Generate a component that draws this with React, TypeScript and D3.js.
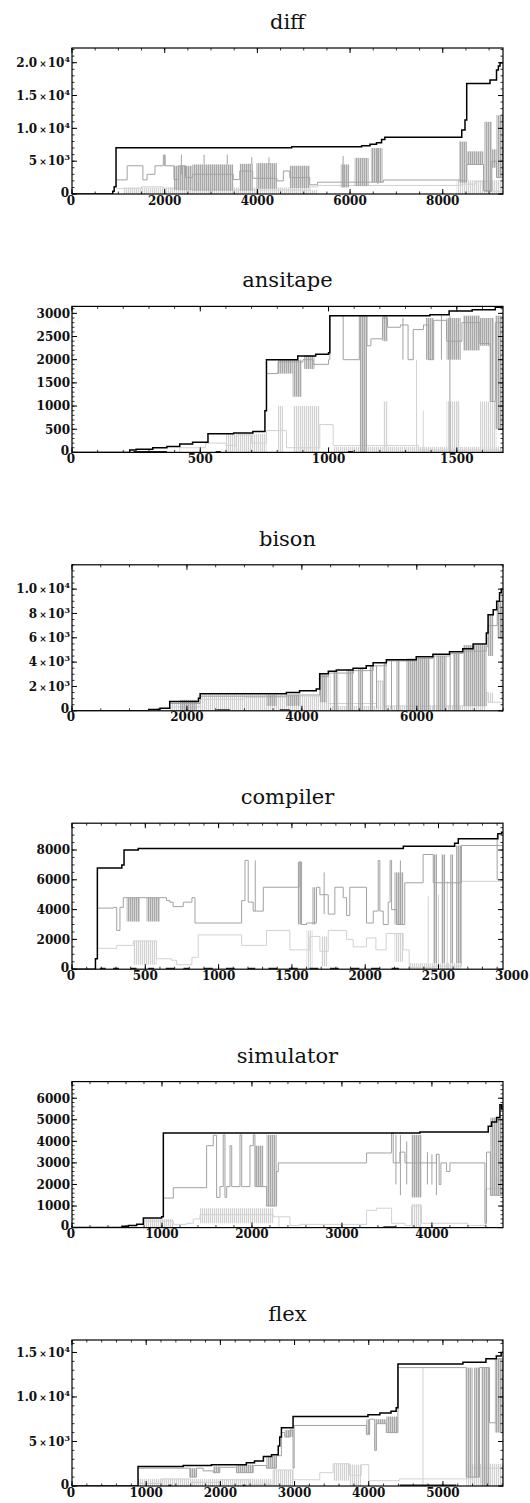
import React from "react";
import * as d3 from "d3";

type P = [number, number];
type B = [number, number, number, number];
type S = [number, number, number];

// ---------- panel meta ----------
const titles = ["diff", "ansitape", "bison", "compiler", "simulator", "flex"];
const xMaxes = [9300, 1680, 7500, 2940, 4790, 5810];
const yMaxes = [22240, 3150, 12000, 9800, 6770, 16400];
const xTicks = [
  [0, 2000, 4000, 6000, 8000],
  [0, 500, 1000, 1500],
  [0, 2000, 4000, 6000],
  [0, 500, 1000, 1500, 2000, 2500, 3000],
  [0, 1000, 2000, 3000, 4000],
  [0, 1000, 2000, 3000, 4000, 5000],
];
const xMinorSteps = [500, 100, 500, 100, 200, 200];
const yTicks = [
  [0, 5000, 10000, 15000, 20000],
  [0, 500, 1000, 1500, 2000, 2500, 3000],
  [0, 2000, 4000, 6000, 8000, 10000],
  [0, 2000, 4000, 6000, 8000],
  [0, 1000, 2000, 3000, 4000, 5000, 6000],
  [0, 5000, 10000, 15000],
];
const yTickLabels = [
  ["0", "5×10^3", "1.0×10^4", "1.5×10^4", "2.0×10^4"],
  ["0", "500", "1000", "1500", "2000", "2500", "3000"],
  ["0", "2×10^3", "4×10^3", "6×10^3", "8×10^3", "1.0×10^4"],
  ["0", "2000", "4000", "6000", "8000"],
  ["0", "1000", "2000", "3000", "4000", "5000", "6000"],
  ["0", "5×10^3", "1.0×10^4", "1.5×10^4"],
];
const yMinorSteps = [1000, 100, 500, 500, 200, 1000];

// ---------- diff ----------
const diffBlack: P[] = [[0,0],[860,0],[880,400],[910,1100],[950,7060],[4740,7210],[6250,7360],[6430,7560],[6570,7820],[6680,8320],[6750,8630],[8410,9750],[8480,11270],[8517,16850],[9020,17360],[9160,18880],[9200,19490],[9236,20000],[9300,20000]];
const diffGray: P[] = [[950,2150],[1190,4300],[1530,2150],[1620,3000],[1790,4300],[1970,5900],[2010,4300],[2200,2200],[2300,4300],[2450,2500],[2600,3000],[3480,2200],[3620,3500],[3900,2400],[4420,2000],[4560,3500],[4700,2500],[5130,1400],[5300,1800],[6720,2130],[8410,2000],[8520,4500],[8880,500],[9060,5000],[9160,2500],[9300,2500]];
const diffGrayBands: B[] = [[2200,2600,600,4300],[2600,3480,500,4500],[3620,3900,500,4600],[3980,4420,800,4700],[4700,5130,900,4300],[5800,5980,1000,4500],[6100,6400,1200,5500],[6450,6700,1800,7000],[8350,8520,1700,8000],[8520,8880,4500,6500],[8900,9060,300,11000],[9060,9160,4000,6800],[9160,9300,2500,12000]];
const diffGraySpikes: S[] = [[2000,4300,6000],[2360,3000,6000],[2850,4500,6000],[3350,4500,6000],[3880,4500,5600],[4250,4500,5600],[5850,1000,5800],[6600,1500,7000]];
const diffLight: P[] = [[960,850],[1500,1100],[1970,900],[2300,600],[5140,1100],[5300,1300],[6720,1300],[8400,1500],[8700,1900],[9000,400],[9300,3000]];
const diffLightBands: B[] = [[1100,5100,0,1000],[5100,5300,0,600],[8300,9300,0,2100]];
const diffLightSpikes: S[] = [[9280,0,3500]];
const diffDashes: S[] = [];

// ---------- ansitape ----------
const ansiBlack: P[] = [[0,0],[220,0],[225,50],[250,70],[315,100],[370,130],[420,180],[470,220],[530,400],[630,420],[705,450],[752,900],[758,2000],[880,2080],[950,2120],[1000,2150],[1005,2950],[1395,2970],[1470,3050],[1560,3080],[1650,3130],[1680,3150]];
const ansiGray: P[] = [[758,1700],[803,1950],[900,2000],[940,1900],[1000,2000],[1005,2950],[1057,2000],[1120,2950],[1150,2300],[1165,2450],[1210,2900],[1230,2700],[1280,2750],[1310,2000],[1330,2650],[1370,2750],[1390,2000],[1410,2850],[1460,2400],[1520,2800],[1590,2350],[1630,1100],[1650,2800],[1670,2200],[1680,2200]];
const ansiGrayBands: B[] = [[803,860,1700,2000],[860,895,1200,2000],[905,945,1800,2100],[1122,1150,0,2950],[1210,1230,2400,2950],[1380,1410,2000,2900],[1460,1515,2000,2900],[1525,1590,2200,2950],[1590,1630,2300,2900],[1630,1645,1100,2900],[1650,1680,500,2950]];
const ansiGraySpikes: S[] = [[1473,0,2950],[1290,2000,2900],[1440,2000,2950]];
const ansiLight: P[] = [[330,0],[420,100],[520,200],[600,150],[640,380],[700,200],[758,470],[836,100],[966,600],[1018,150],[1232,150],[1350,50],[1680,100]];
const ansiLightBands: B[] = [[600,758,0,400],[803,823,0,1000],[862,966,0,1000],[1128,1141,0,2950],[1213,1232,0,1100],[1460,1512,0,1100],[1590,1654,0,1100],[1018,1680,0,120]];
const ansiLightSpikes: S[] = [[1343,0,2000],[1369,0,900],[1500,0,1100]];
const ansiDashes: S[] = [[240,370,15],[560,580,15],[1075,1095,15]];

// ---------- bison ----------
const bisonBlack: P[] = [[0,0],[1330,0],[1335,100],[1530,200],[1700,760],[2200,1030],[2230,1410],[3730,1500],[3960,1650],[4250,1800],[4310,3040],[4460,3250],[4600,3350],[4890,3500],[5120,3700],[5240,3950],[5470,4200],[5990,4450],[6280,4650],[6570,4850],[6800,5100],[6980,5500],[7210,6400],[7240,7900],[7330,8300],[7390,9000],[7440,9700],[7470,10000],[7500,10000]];
const bisonGray: P[] = [[1700,600],[2230,1200],[3730,1300],[4313,2800],[4460,3100],[4900,3300],[5240,3700],[5470,4100],[5990,4300],[6280,4500],[6570,4700],[6800,4900],[7210,5300],[7240,7000],[7400,8500],[7480,6000],[7500,6000]];
const bisonGrayBands: B[] = [[1880,2170,0,900],[3390,3560,400,1300],[3730,3965,400,1300],[4313,4429,700,3000],[4545,4632,0,3300],[4777,4893,0,3400],[4980,5067,0,3500],[5183,5241,0,3700],[5415,5472,0,3900],[5646,5704,0,4100],[5820,6226,0,4300],[6342,6516,0,4500],[6632,6748,0,4700],[6806,7212,400,5400],[7240,7330,4500,7900],[7400,7470,6000,9000]];
const bisonGraySpikes: S[] = [[5300,200,3700],[5560,100,4100],[6300,0,4500],[6580,100,4700]];
const bisonLight: P[] = [[1700,300],[2230,950],[3000,1100],[3730,1200],[4313,2900],[4460,600],[5299,2400],[5415,400],[7212,1500],[7240,700],[7500,1500]];
const bisonLightBands: B[] = [[1700,2200,0,800],[2200,3700,0,1300],[3700,4300,0,1200],[4313,4500,0,3000],[5300,5420,200,2500],[4500,7200,0,400],[7240,7330,700,1500]];
const bisonLightSpikes: S[] = [[7480,1000,9500]];
const bisonDashes: S[] = [[2516,2748,80],[3617,3791,80]];

// ---------- compiler ----------
const compBlack: P[] = [[0,0],[150,0],[160,700],[173,6800],[340,7000],[355,8000],[440,8000],[452,8100],[2260,8250],[2610,8450],[2635,8750],[2905,9100],[2930,9200],[2940,9200]];
const compGray: P[] = [[168,4100],[282,4150],[305,2600],[327,4150],[350,4800],[600,4800],[645,4600],[668,4500],[690,4200],[759,4500],[818,4800],[839,3100],[1145,3100],[1157,4600],[1180,7300],[1202,4500],[1236,3900],[1305,5500],[1532,5500],[1549,7200],[1566,3000],[1600,3100],[1668,5500],[1691,5000],[1748,3700],[1793,5500],[1850,4800],[1873,3600],[1895,5500],[2009,3100],[2055,3900],[2089,7300],[2100,3900],[2123,3000],[2157,4500],[2170,7300],[2180,4000],[2214,3000],[2270,5800],[2395,7700],[2464,5800],[2657,8300],[2918,8300],[2940,6000]];
const compGrayBands: B[] = [[373,464,3200,4800],[509,600,3200,4800],[1540,1566,3000,7200],[1640,1660,3000,5500],[2200,2260,3000,6500],[2464,2490,400,7700],[2520,2545,400,7700],[2580,2600,400,7700],[2620,2657,400,8300]];
const compGraySpikes: S[] = [[1250,3900,7300],[1720,3700,6500],[2240,3000,7300],[2900,6000,9000]];
const compLight: P[] = [[168,1400],[305,1600],[418,1900],[577,700],[679,600],[714,300],[818,800],[861,2300],[1145,2300],[1157,1600],[1327,2600],[1486,1300],[1623,2200],[1691,1200],[1748,2600],[1873,2000],[1918,1500],[2009,2100],[2073,1300],[2143,2400],[2259,1300],[2300,100],[2464,200],[2657,5900],[2918,5900],[2940,2400]];
const compLightBands: B[] = [[418,577,300,1900],[1600,1640,0,2600],[1700,1740,200,2200],[2200,2260,500,2400],[2300,2657,0,400]];
const compLightSpikes: S[] = [[2430,0,4900],[2500,0,5000],[2560,0,5900]];
const compDashes: S[] = [[190,230,50],[280,320,50],[400,440,50],[520,560,50],[640,700,50],[760,800,50],[900,960,50],[1050,1110,50],[1200,1250,50],[1340,1400,50],[1480,1540,50],[1620,1680,50],[1760,1820,50],[1900,1960,50],[2040,2100,50],[2180,2230,50]];

// ---------- simulator ----------
const simBlack: P[] = [[0,0],[550,0],[555,60],[626,100],[719,150],[793,450],[996,500],[1015,4390],[3867,4430],[4626,4700],[4663,4900],[4719,5100],[4756,5700],[4775,5500],[4790,5500]];
const simGray: P[] = [[1015,1370],[1126,1850],[1496,3800],[1570,4280],[1607,1400],[1644,1900],[1681,4300],[1700,1400],[1719,1900],[1756,3800],[1775,1900],[1867,4300],[1886,1900],[1978,3800],[2015,4300],[2033,1900],[2163,1000],[2274,2600],[2293,3000],[3274,3460],[3552,4400],[3570,3000],[3644,3500],[3700,3000],[4050,3400],[4080,2000],[4100,3000],[4163,2600],[4200,3000],[4589,200],[4607,3500],[4650,1500],[4790,5000]];
const simGrayBands: B[] = [[2033,2126,1900,3800],[2163,2274,1000,4300],[3774,3885,1400,4300],[4650,4790,1500,5100]];
const simGraySpikes: S[] = [[3600,2000,4300],[3650,1500,4300],[3720,2000,4000],[3950,2000,3500],[4000,2000,3400],[4050,1500,3400]];
const simLight: P[] = [[793,300],[1126,150],[1274,200],[1348,400],[1422,600],[2237,500],[2422,100],[2533,150],[3274,800],[3385,900],[3552,200],[3700,100],[3774,1000],[3885,200],[4400,100],[4600,1800],[4790,2000]];
const simLightBands: B[] = [[793,1126,0,400],[1422,2237,200,900],[3774,3885,0,1100],[4650,4790,1500,2300]];
const simLightSpikes: S[] = [[2300,0,500]];
const simDashes: S[] = [[3460,3600,30]];

// ---------- flex ----------
const flexBlack: P[] = [[0,0],[884,0],[890,2190],[1500,2300],[1880,2400],[2350,2600],[2460,2800],[2580,3300],[2690,3500],[2780,4500],[2800,5500],[2823,6530],[2980,7800],[3990,8000],[4150,8200],[4300,8400],[4370,8800],[4394,13700],[5270,13900],[5580,14300],[5720,14600],[5785,15000],[5810,15000]];
const flexGray: P[] = [[890,2000],[1589,1000],[1679,2000],[1768,1700],[1903,1500],[1993,2100],[2217,1500],[2442,2300],[2621,2000],[2756,3400],[2823,6000],[2868,5500],[2940,6300],[2980,2000],[2995,6800],[3968,5800],[4013,7500],[4080,4000],[4102,7000],[4237,6000],[4394,13300],[5314,1000],[5494,13300],[5628,7100],[5718,14300],[5810,7500]];
const flexGrayBands: B[] = [[1589,1679,1000,2000],[1903,1993,1500,2200],[2217,2442,1500,2400],[2621,2756,2000,3400],[2868,2980,5500,6300],[3968,4013,5800,7500],[4102,4237,7000,7500],[4237,4394,6000,7800],[5314,5400,1000,13300],[5420,5494,1000,13300],[5520,5628,0,13300],[5700,5810,6000,14300]];
const flexGraySpikes: S[] = [[4100,4000,7500]];
const flexLight: P[] = [[884,300],[1200,800],[1600,400],[2000,700],[2400,200],[2711,1800],[2980,700],[3340,1500],[3519,2500],[3743,1200],[3900,2400],[4000,600],[4417,800],[5314,800],[5400,2000],[5810,2500]];
const flexLightBands: B[] = [[884,2700,0,800],[2711,2980,0,1800],[3519,3743,600,2500],[3743,3900,0,2400],[5314,5810,0,2500]];
const flexLightSpikes: S[] = [[4731,0,13300]];
const flexDashes: S[] = [[1300,1340,80],[2300,2340,80],[4417,5180,80]];

const blacks = [diffBlack, ansiBlack, bisonBlack, compBlack, simBlack, flexBlack];
const grays = [diffGray, ansiGray, bisonGray, compGray, simGray, flexGray];
const grayBands = [diffGrayBands, ansiGrayBands, bisonGrayBands, compGrayBands, simGrayBands, flexGrayBands];
const graySpikes = [diffGraySpikes, ansiGraySpikes, bisonGraySpikes, compGraySpikes, simGraySpikes, flexGraySpikes];
const lights = [diffLight, ansiLight, bisonLight, compLight, simLight, flexLight];
const lightBands = [diffLightBands, ansiLightBands, bisonLightBands, compLightBands, simLightBands, flexLightBands];
const lightSpikes = [diffLightSpikes, ansiLightSpikes, bisonLightSpikes, compLightSpikes, simLightSpikes, flexLightSpikes];
const dashes = [diffDashes, ansiDashes, bisonDashes, compDashes, simDashes, flexDashes];

// ---------- layout ----------
const LEFT = 72;
const RIGHT = 503;
const TOP0 = 48;
const H = 146;
const GAP = 258.4;
const MID = "#a2a2a2";
const LIGHT = "#d2d2d2";
const TICKFONT = "'DejaVu Serif', serif";

function TickLabel({ x, y, text, anchor }: { x: number; y: number; text: string; anchor: string }) {
  const m = text.match(/^(.*)×10\^(\d)$/);
  const common = { x, y, textAnchor: anchor as any, fontFamily: TICKFONT, fontWeight: "bold" as any, fontSize: 12, fill: "#111" };
  if (!m) return <text {...common}>{text}</text>;
  return (
    <text {...common}>
      <tspan>{m[1]}</tspan>
      <tspan fontSize={9} dx={2}>×</tspan>
      <tspan dx={1}>10</tspan>
      <tspan fontSize={8} dy={-5}>{m[2]}</tspan>
    </text>
  );
}

function Panel({ i }: { i: number }) {
  const top = TOP0 + i * GAP;
  const bottom = top + H;
  const x = d3.scaleLinear().domain([0, xMaxes[i]]).range([LEFT, RIGHT]);
  const y = d3.scaleLinear().domain([0, yMaxes[i]]).range([bottom, top]);
  const line = d3.line<P>().x((d) => x(d[0])).y((d) => y(d[1])).curve(d3.curveStepAfter);
  const clipId = `clip${i}`;
  const xMinor = d3.range(0, xMaxes[i] + 1e-6, xMinorSteps[i]);
  const yMinor = d3.range(0, yMaxes[i] + 1e-6, yMinorSteps[i]);
  const xMajorIn = xTicks[i].filter((v) => v <= xMaxes[i]);
  const yMajorIn = yTicks[i].filter((v) => v <= yMaxes[i]);
  const MJ = 5;
  const MN = 2.5;

  return (
    <g>
      <text x={(LEFT + RIGHT) / 2} y={top - 19} textAnchor="middle" fontFamily="'DejaVu Serif', serif" fontSize={21} fill="#111">
        {titles[i]}
      </text>
      <defs>
        <clipPath id={clipId}>
          <rect x={LEFT} y={top} width={RIGHT - LEFT} height={H} />
        </clipPath>
      </defs>
      <g clipPath={`url(#${clipId})`}>
        {lightBands[i].map((b, k) => (
          <rect key={`lb${k}`} x={x(b[0])} y={y(b[3])} width={x(b[1]) - x(b[0])} height={y(b[2]) - y(b[3])} fill="url(#lightHatch)" />
        ))}
        {lightSpikes[i].map((s, k) => (
          <line key={`ls${k}`} x1={x(s[0])} x2={x(s[0])} y1={y(s[1])} y2={y(s[2])} stroke={LIGHT} strokeWidth={1} />
        ))}
        <path d={line(lights[i]) || ""} fill="none" stroke={LIGHT} strokeWidth={1} />
        {grayBands[i].map((b, k) => (
          <rect key={`gb${k}`} x={x(b[0])} y={y(b[3])} width={x(b[1]) - x(b[0])} height={y(b[2]) - y(b[3])} fill="url(#midHatch)" />
        ))}
        {graySpikes[i].map((s, k) => (
          <line key={`gs${k}`} x1={x(s[0])} x2={x(s[0])} y1={y(s[1])} y2={y(s[2])} stroke={MID} strokeWidth={1} />
        ))}
        <path d={line(grays[i]) || ""} fill="none" stroke={MID} strokeWidth={1} />
        {dashes[i].map((s, k) => (
          <line key={`d${k}`} x1={x(s[0])} x2={x(s[1])} y1={y(s[2])} y2={y(s[2])} stroke="#222" strokeWidth={1.4} />
        ))}
        <path d={line(blacks[i]) || ""} fill="none" stroke="#000" strokeWidth={1.5} />
      </g>
      <rect x={LEFT} y={top} width={RIGHT - LEFT} height={H} fill="none" stroke="#000" strokeWidth={1.2} />
      {xMinor.map((v, k) => (
        <g key={`xm${k}`}>
          <line x1={x(v)} x2={x(v)} y1={bottom} y2={bottom - MN} stroke="#000" strokeWidth={0.8} />
          <line x1={x(v)} x2={x(v)} y1={top} y2={top + MN} stroke="#000" strokeWidth={0.8} />
        </g>
      ))}
      {yMinor.map((v, k) => (
        <g key={`ym${k}`}>
          <line x1={LEFT} x2={LEFT + MN} y1={y(v)} y2={y(v)} stroke="#000" strokeWidth={0.8} />
          <line x1={RIGHT} x2={RIGHT - MN} y1={y(v)} y2={y(v)} stroke="#000" strokeWidth={0.8} />
        </g>
      ))}
      {xMajorIn.map((v, k) => (
        <g key={`xM${k}`}>
          <line x1={x(v)} x2={x(v)} y1={bottom} y2={bottom - MJ} stroke="#000" strokeWidth={1} />
          <line x1={x(v)} x2={x(v)} y1={top} y2={top + MJ} stroke="#000" strokeWidth={1} />
        </g>
      ))}
      {yMajorIn.map((v, k) => (
        <g key={`yM${k}`}>
          <line x1={LEFT} x2={LEFT + MJ} y1={y(v)} y2={y(v)} stroke="#000" strokeWidth={1} />
          <line x1={RIGHT} x2={RIGHT - MJ} y1={y(v)} y2={y(v)} stroke="#000" strokeWidth={1} />
        </g>
      ))}
      {xTicks[i].map((v, k) => (
        <TickLabel key={`xl${k}`} x={v === 0 ? x(v) - 1 : x(v)} y={bottom + 10.5} text={String(v)} anchor="middle" />
      ))}
      {yTicks[i].map((v, k) => (
        <TickLabel
          key={`yl${k}`}
          x={v === 0 ? LEFT - 3 : LEFT - 2}
          y={v === 0 ? bottom + 2.5 : y(v) + 4.3}
          text={yTickLabels[i][k]}
          anchor="end"
        />
      ))}
    </g>
  );
}

export default function App() {
  return (
    <svg
      width={530}
      height={1503}
      viewBox="0 0 530 1503"
      style={{ position: "absolute", left: 0, top: 0, background: "#fff" }}
    >
      <defs>
        <pattern id="midHatch" patternUnits="userSpaceOnUse" width={2} height={10}>
          <rect x={0} y={0} width={1.5} height={10} fill="#a8a8a8" />
        </pattern>
        <pattern id="lightHatch" patternUnits="userSpaceOnUse" width={2} height={10}>
          <rect x={0} y={0} width={1.2} height={10} fill="#d2d2d2" />
        </pattern>
      </defs>
      <rect x={0} y={0} width={530} height={1503} fill="#fff" />
      {titles.map((_, i) => (
        <Panel key={i} i={i} />
      ))}
    </svg>
  );
}
